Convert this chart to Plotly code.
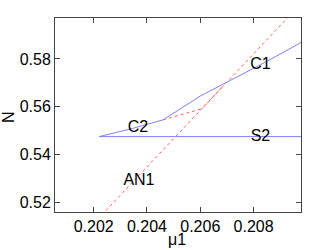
import plotly.graph_objects as go

# Curves (mu1, N)
s2_mu = [0.20221, 0.2099]
s2_N = [0.54758, 0.54758]

c2_mu = [0.20221, 0.20345, 0.20461]
c2_N = [0.54758, 0.55095, 0.55460]

c1_mu = [0.20461, 0.20600, 0.20699, 0.20850, 0.20990]
c1_N = [0.55460, 0.56450, 0.57025, 0.57900, 0.58760]

an1_mu = [0.20230, 0.20935]
an1_N = [0.51485, 0.59806]

hb_mu = [0.20461, 0.20536, 0.20606, 0.20650, 0.20690]
hb_N = [0.55460, 0.55702, 0.55919, 0.56440, 0.56910]

x_ticks = [0.202, 0.204, 0.206, 0.208]
x_ticklabels = ["0.202", "0.204", "0.206", "0.208"]
y_ticks = [0.52, 0.54, 0.56, 0.58]
y_ticklabels = ["0.52", "0.54", "0.56", "0.58"]

labels = ["C1", "C2", "S2", "AN1"]
label_mu = [0.20826, 0.20366, 0.20826, 0.20370]
label_N = [0.57727, 0.55138, 0.54742, 0.52892]

blue = "#7f7fff"
red = "#ff6060"
FONT = "Liberation Sans, Arial"

fig = go.Figure()
for mx, ny in [(s2_mu, s2_N), (c2_mu, c2_N), (c1_mu, c1_N)]:
    fig.add_trace(go.Scatter(x=mx, y=ny, mode="lines",
                             line=dict(color=blue, width=1), showlegend=False))
for mx, ny in [(an1_mu, an1_N), (hb_mu, hb_N)]:
    fig.add_trace(go.Scatter(x=mx, y=ny, mode="lines",
                             line=dict(color=red, width=1, dash="3px,3px"),
                             showlegend=False))

fig.add_trace(go.Scatter(x=label_mu, y=label_N, mode="text", text=labels,
                         textfont=dict(family=FONT, size=16, color="black"),
                         showlegend=False))

axis_common = dict(showgrid=False, zeroline=False, showline=True, mirror="ticks",
                   linecolor="#444", linewidth=1, ticks="inside", ticklen=5,
                   tickcolor="#444", automargin=False,
                   tickfont=dict(family=FONT, size=16, color="black"))

fig.update_xaxes(range=[0.20055, 0.20978], tickvals=x_ticks, ticktext=x_ticklabels,
                 **axis_common)
fig.update_yaxes(range=[0.5161, 0.5971], tickvals=y_ticks, ticktext=y_ticklabels,
                 **axis_common)

fig.add_annotation(text="\u03bc1", xref="paper", yref="paper", x=0.4959, y=-0.144,
                   xanchor="center", yanchor="middle", showarrow=False,
                   font=dict(family=FONT, size=16, color="black"))
fig.add_annotation(text="N", xref="paper", yref="paper", x=-0.187, y=0.49,
                   xanchor="center", yanchor="middle", showarrow=False, textangle=-90,
                   font=dict(family=FONT, size=16, color="black"))

fig.update_layout(width=332, height=250, margin=dict(l=55, r=31, t=18, b=38),
                  plot_bgcolor="white", paper_bgcolor="white", hovermode=False)

fig.write_html("out.html", config={"displayModeBar": False, "staticPlot": True},
               post_script="document.body.style.margin='0';")
